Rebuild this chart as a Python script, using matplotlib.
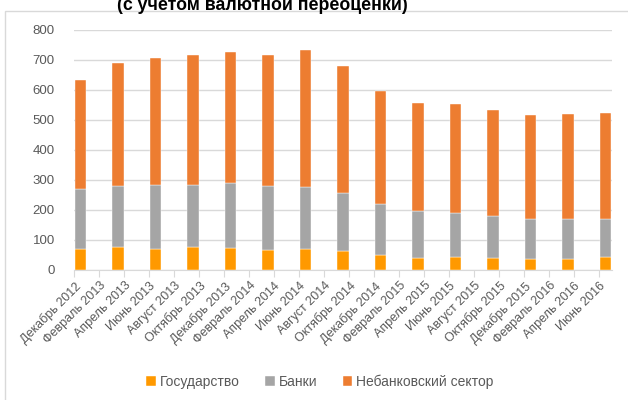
import matplotlib
matplotlib.use("Agg")
import matplotlib.pyplot as plt
from matplotlib.patches import Rectangle

plt.rcParams['font.family'] = ['Liberation Sans', 'DejaVu Sans']

# quarterly observations, Dec 2012 .. Jun 2016 (month index from Dec 2012)
months = [0, 3, 6, 9, 12, 15, 18, 21, 24, 27, 30, 33, 36, 39, 42]
state = [69, 76, 71, 77, 75, 66, 70, 63, 49, 41, 43, 41, 37, 37, 43]
banks = [201, 205, 212, 206, 215, 215, 208, 193, 171, 156, 148, 139, 132, 132, 126]
nonbank = [363, 409, 425, 434, 437, 436, 454, 423, 378, 359, 361, 352, 347, 351, 354]

tick_labels = ["Декабрь 2012", "Февраль 2013", "Апрель 2013", "Июнь 2013",
               "Август 2013", "Октябрь 2013", "Декабрь 2013", "Февраль 2014",
               "Апрель 2014", "Июнь 2014", "Август 2014", "Октябрь 2014",
               "Декабрь 2014", "Февраль 2015", "Апрель 2015", "Июнь 2015",
               "Август 2015", "Октябрь 2015", "Декабрь 2015", "Февраль 2016",
               "Апрель 2016", "Июнь 2016"]
series_names = ["Государство", "Банки", "Небанковский сектор"]
colors = ["#FF9900", "#A5A5A5", "#ED7D31"]

fig = plt.figure(figsize=(6.28, 4.0), dpi=100)
ax = fig.add_axes([74.3 / 628, 130 / 400, (611.8 - 74.3) / 628, 240 / 400])

x = [m + 0.5 for m in months]
bottom = [0] * len(x)
for name, vals, c in zip(series_names, [state, banks, nonbank], colors):
    ax.bar(x, vals, width=0.95, bottom=bottom, color=c, label=name,
           edgecolor="#FFFFFF", linewidth=0.3, zorder=3)
    bottom = [b + v for b, v in zip(bottom, vals)]

ax.set_xlim(0, 43)
ax.set_ylim(0, 800)
ax.set_yticks(range(0, 801, 100))
ax.set_xticks(range(0, 43, 2))
ax.set_xticklabels(tick_labels, rotation=45, ha="right", rotation_mode="anchor")
ax.tick_params(axis="x", colors="#D9D9D9", labelcolor="#595959", length=5,
               labelsize=9, pad=2)
ax.tick_params(axis="y", length=0, labelcolor="#595959", labelsize=9.5, pad=14)
ax.grid(axis="y", color="#D9D9D9", linewidth=1, zorder=0)
for s in ["top", "right", "left"]:
    ax.spines[s].set_visible(False)
ax.spines["bottom"].set_color("#D9D9D9")

# title is partly cropped at the top edge, as in the source image
fig.text(262 / 628, 1 - 9.5 / 400, "(с учетом валютной переоценки)",
         ha="center", va="baseline", fontsize=12.8, fontweight="bold")

# chart frame (top and left edges visible)
fig.patches.append(Rectangle((4.5 / 628, -0.1), 1.2, 1 - 11 / 400 + 0.1,
                             transform=fig.transFigure, fill=False,
                             edgecolor="#D9D9D9", linewidth=1))

ax.legend(loc="center", bbox_to_anchor=(320 / 628, 1 - 382 / 400),
          bbox_transform=fig.transFigure, ncol=3, frameon=False,
          handlelength=0.7, handleheight=0.7, handletextpad=0.3,
          columnspacing=1.8, fontsize=10, labelcolor="#595959")

fig.savefig("out.png", dpi=100)
